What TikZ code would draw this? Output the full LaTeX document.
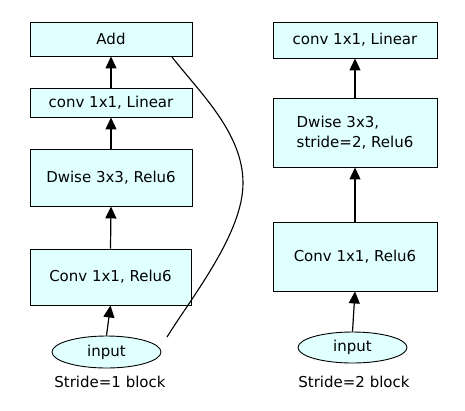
\documentclass[tikz,border=0pt]{standalone}
\usepackage{fontspec}
\setmainfont{DejaVu Sans}
\usetikzlibrary{shapes.geometric,arrows.meta}
\definecolor{boxfill}{HTML}{E0FFFF}
\tikzset{
  blk/.style={draw=black, fill=boxfill, line width=0.9pt, rectangle, inner sep=0pt, align=center, font=\fontsize{15}{20}\selectfont},
  inp/.style={draw=black, fill=boxfill, line width=0.9pt, ellipse, inner sep=0pt, font=\fontsize{15}{18}\selectfont},
  lbl/.style={inner sep=0pt, font=\fontsize{15}{18}\selectfont},
  arr/.style={line width=1.2pt, -{Triangle[length=12pt,width=11pt]}},
  skip/.style={line width=1.1pt},
}
\begin{document}
\begin{tikzpicture}[x=1pt,y=-1pt]
\useasboundingbox[fill=white] (0,0) rectangle (465,410);
% left column
\node[blk, minimum width=162pt, minimum height=34pt] (add) at (111,39) {Add};
\node[blk, minimum width=162pt, minimum height=29pt] (lin1) at (111,102.5) {conv 1x1, Linear};
\node[blk, minimum width=162pt, minimum height=57pt] (dw1) at (111,177.5) {Dwise 3x3, Relu6};
\node[blk, minimum width=161pt, minimum height=56pt] (cv1) at (110.5,277) {Conv 1x1, Relu6};
\node[inp, minimum width=109pt, minimum height=32pt] (in1) at (106.5,352) {input};
\node[lbl] (l1) at (110,382) {Stride=1 block};
% right column
\node[blk, minimum width=164pt, minimum height=36pt] (lin2) at (355,40) {conv 1x1, Linear};
\node[blk, minimum width=164pt, minimum height=69pt, align=left] (dw2) at (355,132.5) {Dwise 3x3,\\stride=2, Relu6};
\node[blk, minimum width=164pt, minimum height=69pt] (cv2) at (355,256.5) {Conv 1x1, Relu6};
\node[inp, minimum width=109pt, minimum height=31pt] (in2) at (352.5,347.5) {input};
\node[lbl] (l2) at (354,382) {Stride=2 block};
% arrows left
\draw[arr] (lin1.north) -- (add.south);
\draw[arr] (dw1.north) -- (lin1.south);
\draw[arr] (cv1.north) -- (dw1.south);
\draw[arr] (in1.north) -- (cv1.south);
% skip connection
\coordinate (s0) at (167,337);
\coordinate (s1) at (243,183);
\coordinate (s2) at (172,57);
\draw[skip] (s0) .. controls (193.5,294.6) and (243,233) .. (s1)
  .. controls (243,133) and (199.7,92.5) .. (s2);
% arrows right
\draw[arr] (dw2.north) -- (lin2.south);
\draw[arr] (cv2.north) -- (dw2.south);
\draw[arr] (in2.north) -- (cv2.south);
\end{tikzpicture}
\end{document}
